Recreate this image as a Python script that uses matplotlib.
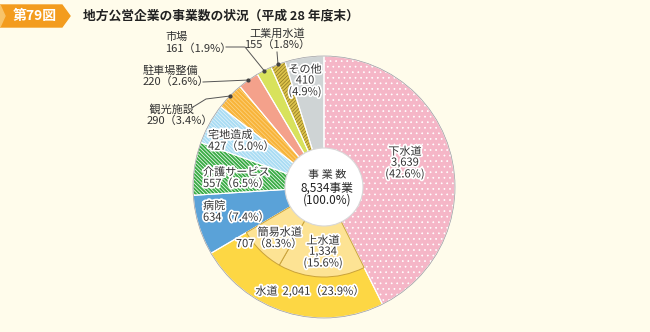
import numpy as np
import matplotlib.pyplot as plt
import matplotlib.patheffects as pe

plt.rcParams['font.family'] = ['Noto Sans CJK JP', 'DejaVu Sans']
plt.rcParams['hatch.linewidth'] = 0.5

# data (number of enterprises, end of FY Heisei 28)
labels = ['下水道', '水道', '病院', '介護サービス', '宅地造成', '観光施設',
          '駐車場整備', '市場', '工業用水道', 'その他']
counts = [3639, 2041, 634, 557, 427, 290, 220, 161, 155, 410]
shares = [42.6, 23.9, 7.4, 6.5, 5.0, 3.4, 2.6, 1.9, 1.8, 4.9]
sub_labels = ['上水道', '簡易水道']
sub_counts = [1334, 707]
sub_shares = [15.6, 8.3]
total = 8534

colors = ['#f5b6c7', '#fdd744', '#5aa2d8', '#3aac45', '#a9dcf3', '#f8b43a',
          '#f4a18b', '#d8e25c', '#dcc24a', '#cfd4d5']
hatches = ['...', None, None, '\\' * 9, '\\' * 9, '\\' * 8, None, None, '/' * 9, None]
hatch_cols = ['white', None, None, 'white', '#e4f4fc', '#fcd68a', None, None, '#8c7622', None]
inner_col = '#fde394'
bg = '#fffceb'

W, H = 650, 332
def py(y):
    return H - y

fig = plt.figure(figsize=(6.5, 3.32), dpi=100, facecolor=bg)
ax = fig.add_axes([0, 0, 1, 1])
ax.set_facecolor(bg)

cx, cy = 324, py(187)
R, R2, r0 = 131, 90, 38

wedges, _ = ax.pie(counts, colors=colors, startangle=90, counterclock=False,
                   radius=R, center=(cx, cy),
                   wedgeprops=dict(width=R - r0, linewidth=0))
for w, h, hc in zip(wedges, hatches, hatch_cols):
    if h:
        w.set_hatch(h)
        w.set_edgecolor(hc)
        w.set_linewidth(0)
# separators
sep, _ = ax.pie(counts, colors=['none'] * len(counts), startangle=90, counterclock=False,
                radius=R, center=(cx, cy),
                wedgeprops=dict(width=R - r0, edgecolor='white', linewidth=0.8))
ax.add_patch(plt.Circle((cx, cy), R, fc='none', ec='#9a9a9a', lw=0.5))

# inner ring splitting 水道
rest = total - counts[0] - counts[1]
inner_vals = [counts[0]] + sub_counts + [rest]
iw, _ = ax.pie(inner_vals, colors=['none', inner_col, inner_col, 'none'], startangle=90,
               counterclock=False, radius=R2, center=(cx, cy),
               wedgeprops=dict(width=R2 - r0, linewidth=0))
for w in iw[1:3]:
    w.set_edgecolor('#c9a23a')
    w.set_linewidth(0.7)

ax.add_patch(plt.Circle((cx, cy), r0 + 1, fc='white', ec='#d8d8d8', lw=0.8, zorder=5))

halo = [pe.withStroke(linewidth=2.5, foreground='white')]
tk = dict(fontsize=8, color='#333333', linespacing=1.1, zorder=6)

def fmt(i):
    return '{:,}（{:.1f}%）'.format(counts[i], shares[i])

# labels on wedges
ax.text(405, py(163), '{}\n{:,}\n({:.1f}%)'.format(labels[0], counts[0], shares[0]),
        ha='center', va='center', path_effects=halo, **tk)
ax.text(310, py(291), '{}  {:,}（{:.1f}%）'.format(labels[1], counts[1], shares[1]),
        ha='center', va='center', path_effects=halo, **tk)
ax.text(323, py(252), '{}\n{:,}\n({:.1f}%)'.format(sub_labels[0], sub_counts[0], sub_shares[0]),
        ha='center', va='center', path_effects=halo, **tk)
ax.text(302, py(238), '{}\n{:,}（{:.1f}%）'.format(sub_labels[1], sub_counts[1], sub_shares[1]),
        ha='right', va='center', multialignment='right', path_effects=halo, **tk)
ax.text(203, py(212), labels[2] + '\n' + fmt(2), ha='left', va='center', path_effects=halo, **tk)
ax.text(203, py(178), labels[3] + '\n' + fmt(3), ha='left', va='center', path_effects=halo, **tk)
ax.text(208, py(141), labels[4] + '\n' + fmt(4), ha='left', va='center', path_effects=halo, **tk)
ax.text(305, py(81), '{}\n{:,}\n({:.1f}%)'.format(labels[9], counts[9], shares[9]),
        ha='center', va='center', path_effects=halo, **tk)

# outside labels
ax.text(147, py(115), ' ' + labels[5] + '\n' + fmt(5), ha='left', va='center', **tk)
ax.text(143, py(76), labels[6] + '\n' + fmt(6), ha='left', va='center', **tk)
ax.text(165, py(43), labels[7] + '\n' + fmt(7), ha='left', va='center', **tk)
ax.text(277, py(39), labels[8] + '\n' + fmt(8), ha='center', va='center', **tk)

# leader lines to wedge edges
cum = np.cumsum([0] + counts)
def edge_pt(i):
    f = (cum[i] + counts[i] / 2) / total
    th = np.deg2rad(90 - 360 * f)
    return cx + R * np.cos(th), cy + R * np.sin(th)

lead = {5: [(193, 107), (206, 99)], 6: [(203, 82)], 7: [(226, 47), (245, 47)], 8: [(277, 52)]}
for i, pts in lead.items():
    ex, ey = edge_pt(i)
    xs = [p[0] for p in pts] + [ex]
    ys = [py(p[1]) for p in pts] + [ey]
    ax.plot(xs, ys, color='#555555', lw=0.7, zorder=6)
    ax.plot(ex, ey, 'o', color='#444444', ms=2, zorder=6)

# centre text
ax.text(cx + 3, py(175), '事 業 数', ha='center', va='center', fontsize=8, color='#333333', zorder=7)
ax.text(cx + 3, py(188), '{:,}事業'.format(total), ha='center', va='center', fontsize=8.5,
        color='#222222', zorder=7)
ax.text(cx + 3, py(200), '({:.1f}%)'.format(100.0), ha='center', va='center', fontsize=8.5,
        color='#222222', zorder=7)

# title tag
ax.fill([0, 62, 70, 62, 0], [py(5), py(5), py(16), py(27), py(27)], color='#f39c1e', zorder=8)
ax.fill([0, 5, 0], [py(5), py(16), py(27)], color='#f8c46a', zorder=8)
ax.text(35, py(16), '第79図', ha='center', va='center', fontsize=10, color='white',
        fontweight='bold', zorder=9)
ax.text(83, py(16), '地方公営企業の事業数の状況（平成 28 年度末）', ha='left', va='center',
        fontsize=9.2, color='#222222', fontweight='bold', zorder=9)

ax.set_xlim(0, W)
ax.set_ylim(0, H)
ax.set_aspect('equal')
ax.axis('off')
fig.savefig('out.png', dpi=100, facecolor=bg)
